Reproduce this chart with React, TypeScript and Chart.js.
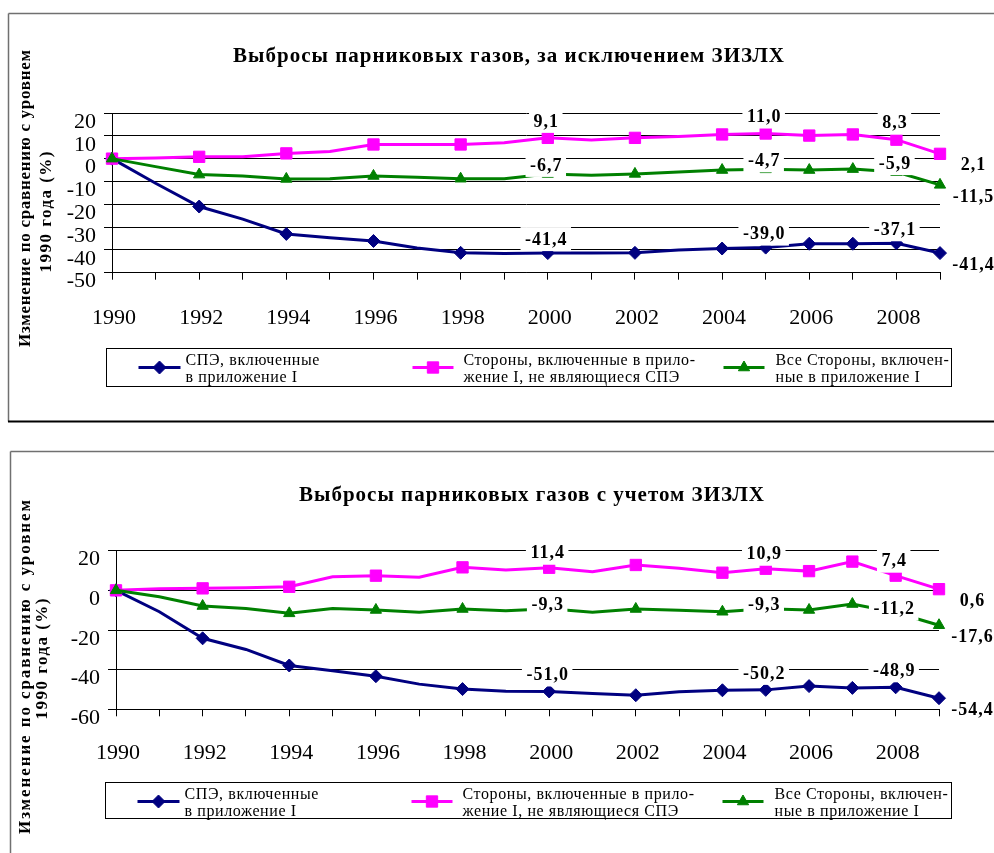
import { useEffect, useRef } from 'react';
import { Chart, registerables } from 'chart.js';

Chart.register(...registerables);

// ---------- data ----------
const YEARS = [1990, 1991, 1992, 1993, 1994, 1995, 1996, 1997, 1998, 1999, 2000, 2001, 2002, 2003, 2004, 2005, 2006, 2007, 2008, 2009];
const X_TICK_LABELS = ['1990', '1992', '1994', '1996', '1998', '2000', '2002', '2004', '2006', '2008'];
const MARKER_YEARS = [1990, 1992, 1994, 1996, 1998, 2000, 2002, 2004, 2005, 2006, 2007, 2008, 2009];
const LABEL_YEARS = [2000, 2005, 2008, 2009];

const TOP_TITLE = 'Выбросы парниковых газов, за исключением ЗИЗЛХ';
const BOTTOM_TITLE = 'Выбросы парниковых газов с учетом ЗИЗЛХ';
const Y_TITLE_LINES = ['Изменение по сравнению с уровнем', '1990 года (%)'];
const LEGEND_LINES = [
  ['СПЭ, включенные', 'в приложение I'],
  ['Стороны, включенные в прило-', 'жение I, не являющиеся СПЭ'],
  ['Все Стороны, включен-', 'ные в приложение I'],
];

// Top chart: excluding LULUCF
const TOP_EIT = [0, -10.8, -21.0, -26.5, -33.0, -34.7, -36.1, -39.2, -41.3, -41.6, -41.4, -41.4, -41.3, -40.1, -39.4, -39.0, -37.3, -37.3, -37.1, -41.4];
const TOP_NON_EIT = [0, 0.3, 0.8, 0.8, 2.3, 3.1, 6.2, 6.2, 6.2, 7.0, 9.1, 8.2, 9.1, 9.7, 10.6, 11.0, 10.1, 10.6, 8.3, 2.1];
const TOP_ALL = [0, -3.5, -7.0, -7.6, -8.9, -8.8, -7.6, -8.2, -8.8, -8.8, -6.7, -7.3, -6.7, -5.9, -5.0, -4.7, -5.0, -4.6, -5.9, -11.5];
const TOP_Y_MIN = -50;
const TOP_Y_MAX = 20;
const TOP_Y_STEP = 10;

// Bottom chart: including LULUCF
const BOTTOM_EIT = [0, -10.8, -24.2, -29.8, -37.9, -40.6, -43.3, -47.3, -49.8, -50.9, -51.0, -52.0, -52.9, -51.2, -50.4, -50.2, -48.3, -49.2, -48.9, -54.4];
const BOTTOM_NON_EIT = [0, 0.8, 1.0, 1.3, 1.8, 6.9, 7.4, 6.6, 11.6, 10.3, 11.4, 9.4, 12.8, 11.1, 8.9, 10.9, 9.7, 14.5, 7.4, 0.6];
const BOTTOM_ALL = [0, -3.2, -7.9, -9.1, -11.6, -9.1, -9.9, -11.1, -9.4, -10.3, -9.3, -11.1, -9.4, -10.1, -10.8, -9.3, -9.9, -6.9, -11.2, -17.6];
const BOTTOM_Y_MIN = -60;
const BOTTOM_Y_MAX = 20;
const BOTTOM_Y_STEP = 20;

// ---------- styles ----------
const COLORS = ['#000080', '#ff00ff', '#008000'];
const POINT_STYLES = ['rectRot', 'rect', 'triangle'];
const POINT_RADII = [6.5, 8, 6.5];
const DRAW_ORDER = [3, 2, 1];
const FONT = '"Liberation Serif", "Times New Roman", serif';
const WIDTH = 994;

const LEGEND_ITEMS_X = [
  { l: 32, r: 74, t: 79 },
  { l: 306, r: 347, t: 357 },
  { l: 617, r: 658, t: 669 },
];

type Layout = {
  top: number;
  height: number;
  plot: { left: number; right: number; top: number; bottom: number };
  xLabelPad: number;
  frame: { left: number; top: number; bottom: number | null };
  title: { x: number; base: number; width: number };
  yTitle: { base: number; cy: number; len: number }[];
  legend: { left: number; right: number; top: number; bottom: number };
  labelDy: number[];
};

const TOP_LAYOUT: Layout = {
  top: 0,
  height: 430,
  plot: { left: 112, right: 940, top: 113, bottom: 272.7 },
  xLabelPad: 25,
  frame: { left: 8.5, top: 13.5, bottom: 421.5 },
  title: { x: 233, base: 62, width: 551 },
  yTitle: [
    { base: 29.5, cy: 198.5, len: 297 },
    { base: 50.5, cy: 212, len: 121 },
  ],
  legend: { left: 106.5, right: 951.5, top: 348.5, bottom: 386.5 },
  labelDy: [-13, -16, -8],
};

const BOTTOM_LAYOUT: Layout = {
  top: 430,
  height: 423,
  plot: { left: 116, right: 939, top: 120.7, bottom: 279.3 },
  xLabelPad: 24,
  frame: { left: 10.5, top: 21.5, bottom: null },
  title: { x: 299, base: 70.7, width: 465 },
  yTitle: [
    { base: 30, cy: 237, len: 334 },
    { base: 47, cy: 229, len: 121 },
  ],
  legend: { left: 105.5, right: 951.5, top: 352.5, bottom: 388.5 },
  labelDy: [-16, -14, -3],
};

function fmt(v: number) {
  return v.toFixed(1).replace('.', ',');
}

function drawSpaced(ctx: CanvasRenderingContext2D, text: string, x0: number, y: number, target: number) {
  (ctx as any).letterSpacing = '0px';
  const w = ctx.measureText(text).width;
  const n = Array.from(text).length;
  const s = n > 1 ? (target - w) / (n - 1) : 0;
  (ctx as any).letterSpacing = s + 'px';
  ctx.textAlign = 'left';
  ctx.fillText(text, x0, y);
  (ctx as any).letterSpacing = '0px';
}

function drawMarker(ctx: CanvasRenderingContext2D, style: string, x: number, y: number, r: number, color: string) {
  ctx.beginPath();
  if (style === 'rectRot') {
    ctx.moveTo(x - r, y);
    ctx.lineTo(x, y - r);
    ctx.lineTo(x + r, y);
    ctx.lineTo(x, y + r);
  } else if (style === 'rect') {
    const s = r * Math.SQRT1_2;
    ctx.rect(x - s, y - s, 2 * s, 2 * s);
  } else {
    for (let k = 0; k < 3; k++) {
      const a = (k * 2 * Math.PI) / 3;
      const px = x + Math.sin(a) * r;
      const py = y - Math.cos(a) * r;
      if (k === 0) ctx.moveTo(px, py);
      else ctx.lineTo(px, py);
    }
  }
  ctx.closePath();
  ctx.fillStyle = color;
  ctx.strokeStyle = color;
  ctx.lineWidth = 1;
  ctx.fill();
  ctx.stroke();
}

function makeOverlay(L: Layout, title: string) {
  return {
    id: 'overlay',
    beforeDraw(chart: any) {
      const ctx: CanvasRenderingContext2D = chart.ctx;
      ctx.save();
      ctx.strokeStyle = '#707070';
      ctx.lineWidth = 1.5;
      ctx.beginPath();
      ctx.moveTo(L.frame.left, L.frame.top);
      ctx.lineTo(chart.width, L.frame.top);
      ctx.moveTo(L.frame.left, L.frame.top);
      ctx.lineTo(L.frame.left, L.frame.bottom ?? chart.height);
      ctx.stroke();
      if (L.frame.bottom != null) {
        ctx.strokeStyle = '#000';
        ctx.lineWidth = 2;
        ctx.beginPath();
        ctx.moveTo(L.frame.left - 0.5, L.frame.bottom);
        ctx.lineTo(chart.width, L.frame.bottom);
        ctx.stroke();
      }
      ctx.restore();
    },
    afterDatasetsDraw(chart: any) {
      const ctx: CanvasRenderingContext2D = chart.ctx;
      ctx.save();
      ctx.font = `bold 18px ${FONT}`;
      (ctx as any).letterSpacing = '1px';
      ctx.textAlign = 'center';
      ctx.textBaseline = 'middle';
      chart.data.datasets.forEach((ds: any, i: number) => {
        const meta = chart.getDatasetMeta(i);
        LABEL_YEARS.forEach((yr) => {
          const idx = YEARS.indexOf(yr);
          const pt = meta.data[idx];
          const txt = fmt(ds.data[idx]);
          const last = idx === YEARS.length - 1;
          const cx = last ? pt.x + 33 : pt.x - 2;
          const cy = last ? pt.y + 12 : pt.y + L.labelDy[i];
          const w = ctx.measureText(txt).width;
          if (!last) {
            ctx.fillStyle = '#fff';
            ctx.fillRect(cx - w / 2 - 4, cy - 13, w + 8, 24);
          }
          ctx.fillStyle = '#000';
          ctx.fillText(txt, cx + 0.5, cy);
        });
      });
      ctx.restore();
    },
    afterDraw(chart: any) {
      const ctx: CanvasRenderingContext2D = chart.ctx;
      ctx.save();
      ctx.fillStyle = '#000';
      ctx.textBaseline = 'alphabetic';
      // title
      ctx.font = `bold 21px ${FONT}`;
      drawSpaced(ctx, title, L.title.x, L.title.base, L.title.width);
      // y-axis title (rotated)
      ctx.font = `bold 17px ${FONT}`;
      Y_TITLE_LINES.forEach((line, k) => {
        const t = L.yTitle[k];
        ctx.save();
        ctx.translate(t.base, t.cy);
        ctx.rotate(-Math.PI / 2);
        drawSpaced(ctx, line, -t.len / 2, 0, t.len);
        ctx.restore();
      });
      // legend
      const lg = L.legend;
      ctx.strokeStyle = '#000';
      ctx.lineWidth = 1;
      ctx.strokeRect(lg.left, lg.top, lg.right - lg.left, lg.bottom - lg.top);
      ctx.font = `16px ${FONT}`;
      LEGEND_LINES.forEach((lines, i) => {
        const pos = LEGEND_ITEMS_X[i];
        const my = lg.top + 19;
        ctx.strokeStyle = COLORS[i];
        ctx.lineWidth = 3;
        ctx.beginPath();
        ctx.moveTo(lg.left + pos.l, my);
        ctx.lineTo(lg.left + pos.r, my);
        ctx.stroke();
        drawMarker(ctx, POINT_STYLES[i], lg.left + (pos.l + pos.r) / 2, my, POINT_RADII[i], COLORS[i]);
        ctx.fillStyle = '#000';
        (ctx as any).letterSpacing = '0.6px';
        ctx.textAlign = 'left';
        lines.forEach((ln, k) => {
          ctx.fillText(ln, lg.left + pos.t, lg.top + 16 + k * 17);
        });
        (ctx as any).letterSpacing = '0px';
      });
      ctx.restore();
    },
  };
}

function buildChart(
  canvas: HTMLCanvasElement,
  L: Layout,
  series: number[][],
  yMin: number,
  yMax: number,
  yStep: number,
  title: string
) {
  return new Chart(canvas, {
    type: 'line',
    data: {
      labels: YEARS.map(String),
      datasets: series.map((values, i) => ({
        label: LEGEND_LINES[i].join(' '),
        data: values,
        borderColor: COLORS[i],
        backgroundColor: COLORS[i],
        borderWidth: 3,
        tension: 0,
        pointStyle: POINT_STYLES[i] as any,
        pointRadius: (c: any) => (MARKER_YEARS.includes(YEARS[c.dataIndex]) ? POINT_RADII[i] : 0),
        pointBorderWidth: 1,
        pointBorderColor: COLORS[i],
        pointBackgroundColor: COLORS[i],
        clip: false as any,
        order: DRAW_ORDER[i],
      })),
    },
    options: {
      responsive: false,
      animation: false,
      devicePixelRatio: 1,
      events: [],
      layout: {
        padding: { left: 0, top: L.plot.top, right: WIDTH - L.plot.right, bottom: 0 },
      },
      plugins: {
        legend: { display: false },
        title: { display: false },
        tooltip: { enabled: false },
      },
      scales: {
        x: {
          type: 'category',
          offset: false,
          grid: { drawOnChartArea: false, drawTicks: true, tickLength: 7, color: '#000', lineWidth: 1 },
          border: { display: true, color: '#000', width: 1 },
          ticks: {
            autoSkip: false,
            maxRotation: 0,
            minRotation: 0,
            padding: L.xLabelPad,
            labelOffset: 2,
            color: '#000',
            font: { family: FONT, size: 22 },
            callback: (_v: any, idx: number) => {
              const s = String(YEARS[idx]);
              return X_TICK_LABELS.includes(s) ? s : '';
            },
          },
          afterFit: (scale: any) => {
            scale.height = L.height - L.plot.bottom;
          },
        },
        y: {
          min: yMin,
          max: yMax,
          grid: { drawOnChartArea: true, drawTicks: true, tickLength: 8, color: '#000', lineWidth: 1 },
          border: { display: true, color: '#000', width: 1 },
          ticks: {
            stepSize: yStep,
            autoSkip: false,
            padding: 8,
            labelOffset: 9,
            color: '#000',
            font: { family: FONT, size: 22 },
            callback: (v: any) => String(v),
          },
          afterFit: (scale: any) => {
            scale.width = L.plot.left;
          },
        },
      },
    },
    plugins: [makeOverlay(L, title)],
  } as any);
}

function Panel(props: { L: Layout; series: number[][]; yMin: number; yMax: number; yStep: number; title: string }) {
  const ref = useRef<HTMLCanvasElement>(null);
  useEffect(() => {
    if (!ref.current) return;
    const chart = buildChart(ref.current, props.L, props.series, props.yMin, props.yMax, props.yStep, props.title);
    return () => chart.destroy();
  }, []);
  return (
    <canvas
      ref={ref}
      width={WIDTH}
      height={props.L.height}
      style={{ position: 'absolute', left: 0, top: props.L.top, width: WIDTH, height: props.L.height, display: 'block' }}
    />
  );
}

export default function App() {
  return (
    <div style={{ position: 'absolute', left: 0, top: 0, width: WIDTH, height: 853, overflow: 'hidden', background: '#fff' }}>
      <Panel L={TOP_LAYOUT} series={[TOP_EIT, TOP_NON_EIT, TOP_ALL]} yMin={TOP_Y_MIN} yMax={TOP_Y_MAX} yStep={TOP_Y_STEP} title={TOP_TITLE} />
      <Panel
        L={BOTTOM_LAYOUT}
        series={[BOTTOM_EIT, BOTTOM_NON_EIT, BOTTOM_ALL]}
        yMin={BOTTOM_Y_MIN}
        yMax={BOTTOM_Y_MAX}
        yStep={BOTTOM_Y_STEP}
        title={BOTTOM_TITLE}
      />
    </div>
  );
}
